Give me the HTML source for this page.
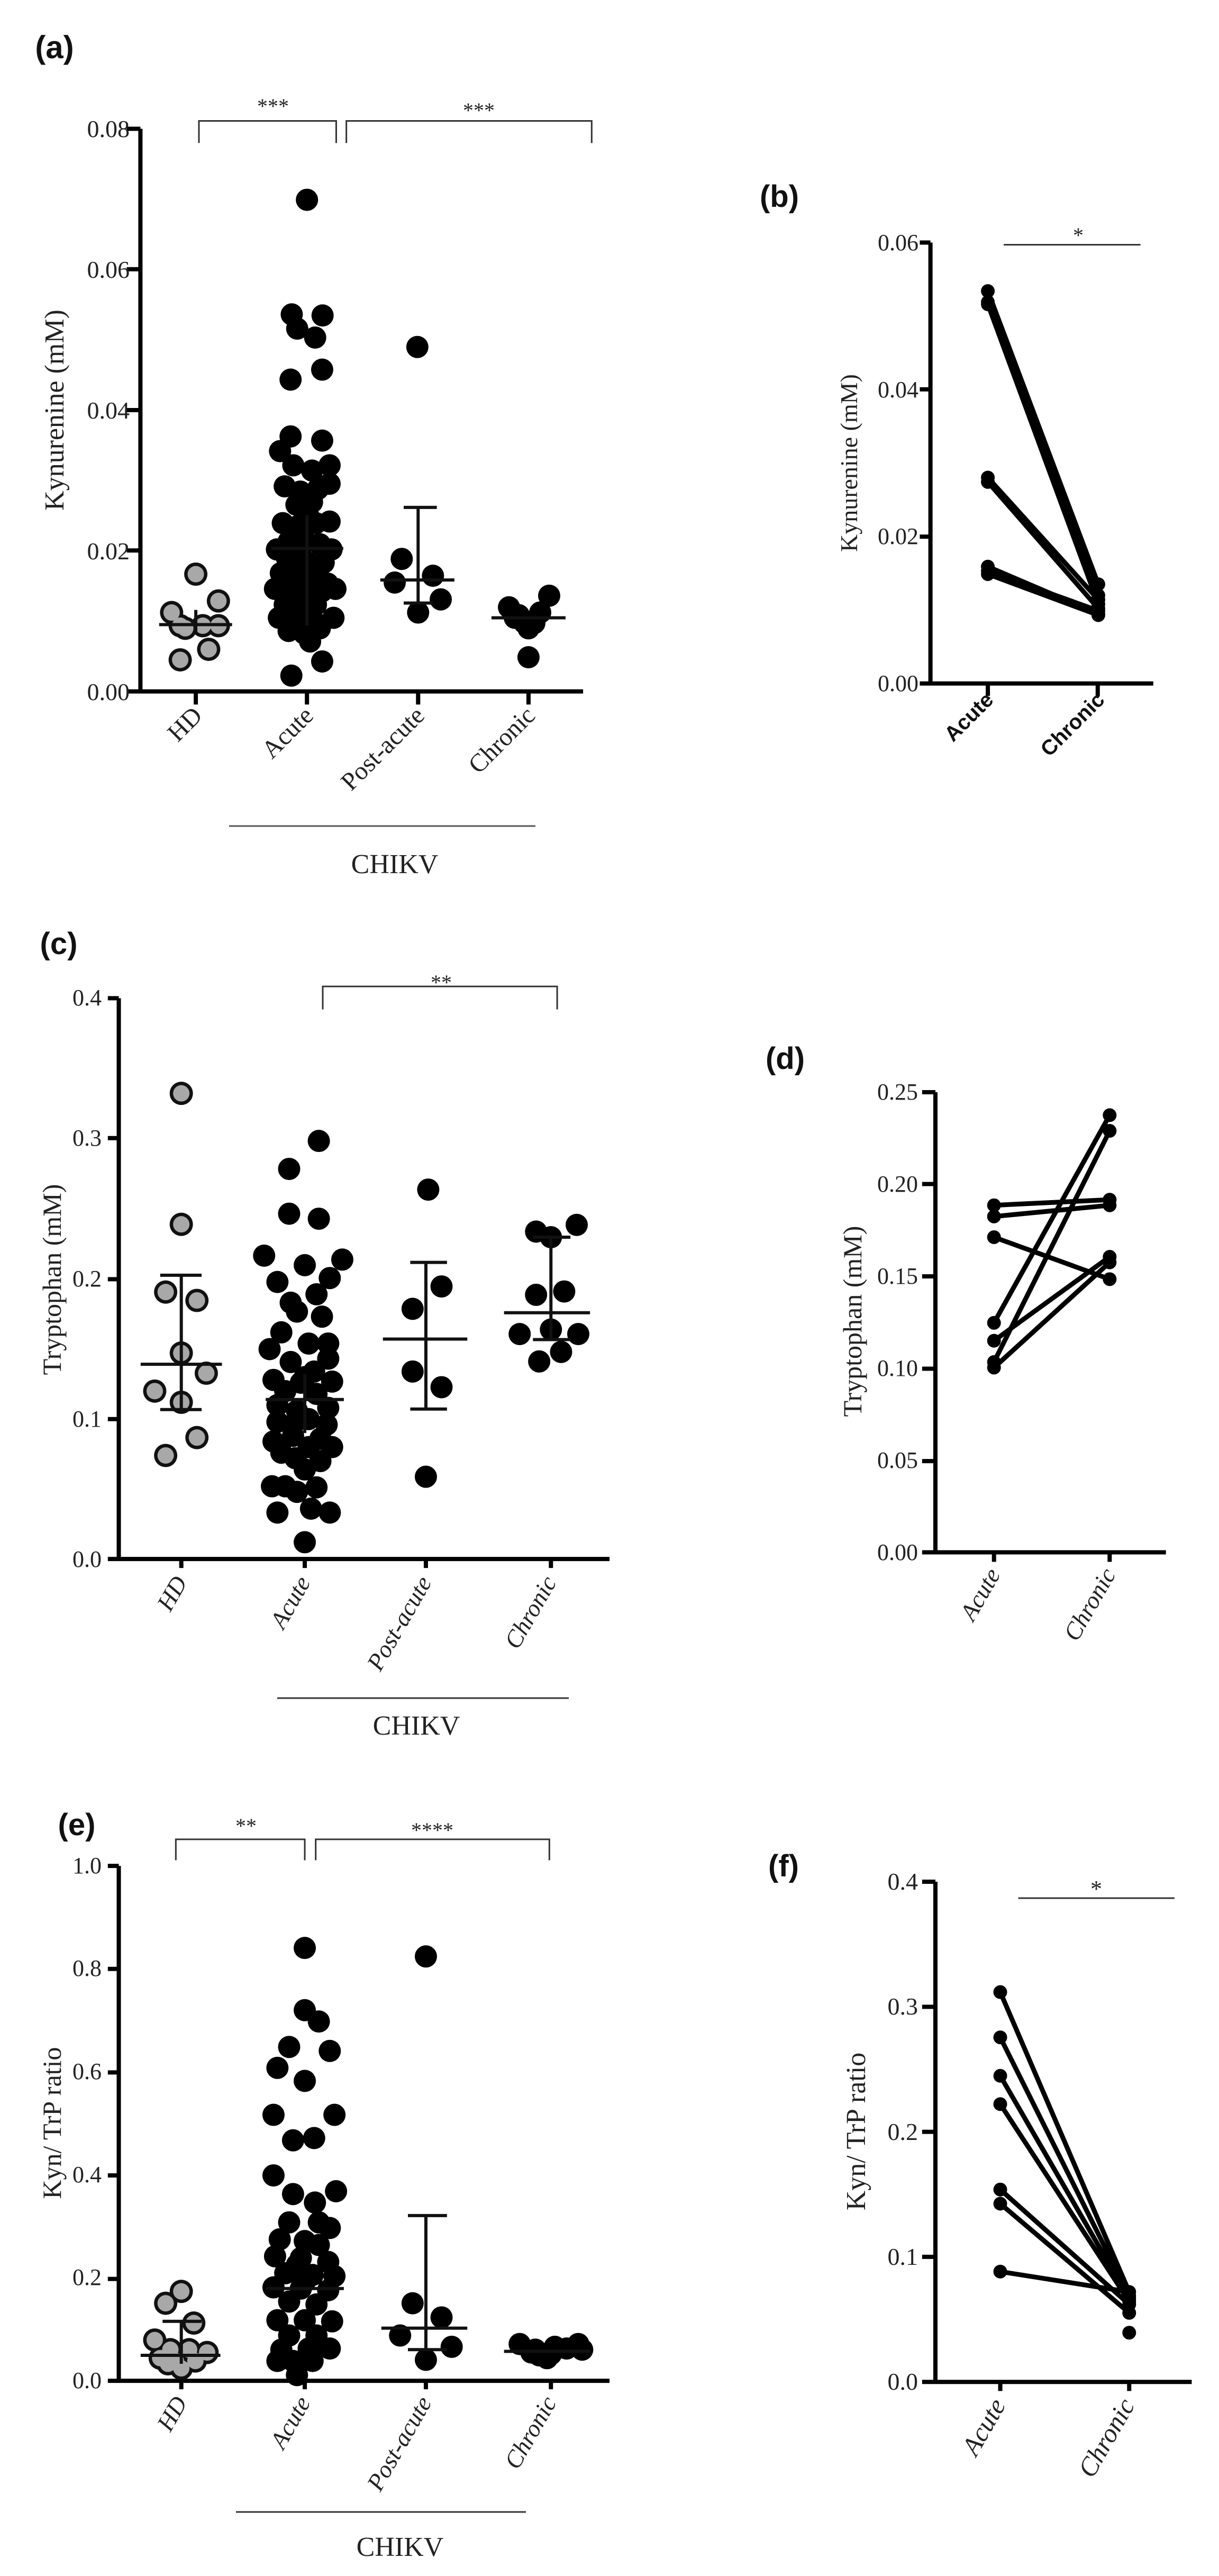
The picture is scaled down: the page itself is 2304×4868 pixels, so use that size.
<!DOCTYPE html>
<html><head><meta charset="utf-8"><style>
html,body{margin:0;padding:0;background:#fff}
svg{display:block}
.t{font-family:"Liberation Serif",serif;fill:#222}
.b{font-family:"Liberation Sans",sans-serif;font-weight:bold;fill:#111}
path{fill:none;vector-effect:non-scaling-stroke}
.ax{stroke:#000;stroke-width:8}
.br{stroke:#333;stroke-width:3}
.ml{stroke:#111;stroke-width:6}
.dk{stroke:#000;stroke-width:42;stroke-linecap:round}
.go{stroke:#111;stroke-width:44;stroke-linecap:round}
.gi{stroke:#a8a8a8;stroke-width:31;stroke-linecap:round}
.pl{stroke:#000;stroke-width:9;stroke-linecap:round}
.pd{stroke:#000;stroke-width:26;stroke-linecap:round}
</style></head><body>
<svg width="2304" height="4868" viewBox="0 0 2304 4868" xmlns="http://www.w3.org/2000/svg">
<rect width="2304" height="4868" fill="#fff"/>

<!-- PANEL A -->
<g transform="matrix(0.7372 0 0 0.9936 0 0)">
<path class="ax" d="M360 245V1315H1495 M325 245H360 M325 512H360 M325 780H360 M325 1047H360 M325 1315H360 M502 1315V1340 M787 1315V1340 M1072 1315V1340 M1355 1315V1340"/>
<path class="br" d="M510 272V230H862V272 M888 272V230H1517V272"/>
<path class="go" d="M502 1092h0M560 1143h0M440 1165h0M462 1190h0M520 1190h0M560 1190h0M475 1195h0M535 1235h0M462 1255h0"/>
<path class="gi" d="M502 1092h0M560 1143h0M440 1165h0M462 1190h0M520 1190h0M560 1190h0M475 1195h0M535 1235h0M462 1255h0"/>
<path class="ml" d="M408 1188H595 M502 1160V1205"/>
<path class="dk" d="M787 380h0M748 598h0M827 600h0M762 625h0M808 642h0M745 722h0M826 703h0M745 830h0M826 838h0M718 858h0M752 885h0M800 895h0M845 885h0M730 925h0M770 935h0M815 930h0M845 920h0M760 960h0M800 955h0M725 995h0M765 1000h0M810 995h0M845 992h0M740 1030h0M780 1025h0M820 1035h0M710 1045h0M850 1045h0M745 1065h0M790 1070h0M830 1070h0M720 1090h0M760 1100h0M800 1095h0M840 1110h0M705 1120h0M745 1125h0M785 1130h0M825 1125h0M860 1120h0M730 1150h0M770 1155h0M810 1150h0M715 1175h0M760 1180h0M800 1175h0M855 1175h0M740 1200h0M780 1205h0M820 1195h0M795 1220h0M826 1258h0M747 1285h0M770 1050h0M790 980h0M735 1060h0"/>
<path class="ml" d="M695 1043H880 M787 980V1190"/>
<path class="dk" d="M1070 660h0M1030 1063h0M1012 1108h0M1110 1095h0M1130 1140h0M1072 1165h0"/>
<path class="ml" d="M975 1103H1165 M1072 965V1147 M1035 965H1120 M1035 1147H1110"/>
<path class="dk" d="M1305 1155h0M1408 1133h0M1330 1170h0M1385 1165h0M1345 1185h0M1370 1185h0M1355 1195h0M1320 1175h0M1355 1250h0"/>
<path class="ml" d="M1260 1175H1450"/>
</g>
<text class="b" x="103" y="110" font-size="60" text-anchor="middle">(a)</text>
<text class="t" x="516" y="214" font-size="40" text-anchor="middle">***</text>
<text class="t" x="905" y="222" font-size="40" text-anchor="middle">***</text>
<g class="t" font-size="46" text-anchor="end">
<text x="245" y="259">0.08</text><text x="245" y="525">0.06</text><text x="245" y="791">0.04</text><text x="245" y="1057">0.02</text><text x="245" y="1323">0.00</text>
</g>
<text class="t" font-size="52" text-anchor="middle" transform="translate(120,775) rotate(-90)">Kynurenine (mM)</text>
<g class="t" font-size="48" text-anchor="end">
<text transform="translate(385,1355) rotate(-45)">HD</text>
<text transform="translate(595,1355) rotate(-45)">Acute</text>
<text transform="translate(805,1355) rotate(-45)">Post-acute</text>
<text transform="translate(1014,1355) rotate(-45)">Chronic</text>
</g>
<path d="M433 1561H1012" stroke="#555" stroke-width="3"/>
<text class="t" x="746" y="1650" font-size="52" text-anchor="middle">CHIKV</text>

<!-- PANEL B -->
<g transform="matrix(0.5769 0 0 0.8333 1300 150)">
<path class="ax" d="M795 370V1370H1525 M760 370H795 M760 703H795 M760 1037H795 M760 1370H795 M983 1370V1398 M1343 1370V1398"/>
<path class="br" d="M1035 375H1483"/>
<path class="pl" d="M983 480L1345 1145 M983 505L1345 1170 M983 510L1345 1190 M983 903L1345 1180 M983 913L1345 1200 M983 1105L1345 1212 M983 1115L1345 1205 M983 1122L1345 1215"/>
<path class="pd" d="M983 480h0M983 505h0M983 510h0M983 903h0M983 913h0M983 1105h0M983 1115h0M983 1122h0M1345 1145h0M1345 1170h0M1345 1190h0M1345 1180h0M1345 1200h0M1345 1212h0M1345 1205h0M1345 1215h0"/>
</g>
<text class="b" x="1473" y="391" font-size="58" text-anchor="middle">(b)</text>
<text class="t" x="2038" y="458" font-size="40" text-anchor="middle">*</text>
<g class="t" font-size="44" text-anchor="end">
<text x="1736" y="473">0.06</text><text x="1736" y="751">0.04</text><text x="1736" y="1028">0.02</text><text x="1736" y="1306">0.00</text>
</g>
<text class="t" font-size="46" text-anchor="middle" transform="translate(1620,875) rotate(-90)">Kynurenine (mM)</text>
<g class="b" font-size="40" text-anchor="end">
<text transform="translate(1880,1325) rotate(-45)">Acute</text>
<text transform="translate(2090,1325) rotate(-45)">Chronic</text>
</g>

<!-- PANEL C & D -->
<g transform="matrix(1.477 0 0 1.0577 0 1550)">
<path class="ax" d="M152 318V1320H780 M138 318H152 M138 568H152 M138 820H152 M138 1070H152 M138 1320H152 M232 1320V1336 M390 1320V1336 M545 1320V1336 M705 1320V1336"/>
<path class="br" d="M413 338V297H713V338"/>
<path class="go" d="M232 488h0M232 722h0M212 843h0M252 858h0M232 952h0M264 988h0M198 1020h0M232 1040h0M252 1103h0M212 1135h0"/>
<path class="gi" d="M232 488h0M232 722h0M212 843h0M252 858h0M232 952h0M264 988h0M198 1020h0M232 1040h0M252 1103h0M212 1135h0"/>
<path class="ml" d="M180 972H284 M232 813V1053 M205 813H258 M205 1053H258"/>
<path class="dk" d="M408 573h0M370 623h0M370 703h0M408 712h0M338 778h0M438 785h0M390 795h0M355 825h0M422 818h0M405 847h0M372 862h0M412 887h0M380 878h0M360 915h0M420 935h0M345 945h0M395 935h0M372 968h0M420 962h0M350 1000h0M390 995h0M425 1003h0M365 1020h0M405 1025h0M355 1045h0M420 1050h0M380 1055h0M395 1070h0M355 1075h0M418 1080h0M375 1100h0M410 1105h0M350 1110h0M395 1120h0M360 1130h0M425 1120h0M378 1140h0M410 1145h0M390 1160h0M365 1190h0M405 1192h0M348 1190h0M380 1200h0M355 1237h0M398 1230h0M422 1237h0M390 1290h0M385 1005h0M402 985h0M375 1080h0"/>
<path class="ml" d="M340 1035H440 M390 990V1095"/>
<path class="dk" d="M548 660h0M565 833h0M528 873h0M528 985h0M565 1013h0M545 1173h0"/>
<path class="ml" d="M490 927H598 M545 790V1052 M525 790H572 M525 1052H572"/>
<path class="dk" d="M686 735h0M738 723h0M705 745h0M722 842h0M686 848h0M705 910h0M665 918h0M740 918h0M690 967h0M718 950h0"/>
<path class="ml" d="M645 880H755 M705 745V928 M682 745H730 M682 928H730"/>
<path class="ax" d="M1197 486V1308H1492 M1180 486H1197 M1180 650H1197 M1180 815H1197 M1180 980H1197 M1180 1145H1197 M1180 1308H1197 M1272 1308V1325 M1420 1308V1325"/>
<path class="pl" d="M1272 688L1420 678 M1272 708L1420 688 M1272 745L1420 820 M1272 898L1420 527 M1272 968L1420 555 M1272 930L1420 780 M1272 978L1420 790"/>
<path class="pd" d="M1272 688h0M1272 708h0M1272 745h0M1272 898h0M1272 968h0M1272 930h0M1272 978h0M1420 678h0M1420 688h0M1420 820h0M1420 527h0M1420 555h0M1420 780h0M1420 790h0"/>
</g>
<text class="b" x="111" y="1803" font-size="58" text-anchor="middle">(c)</text>
<text class="t" x="834" y="1870" font-size="40" text-anchor="middle">**</text>
<g class="t" font-size="44" text-anchor="end">
<text x="192" y="1900">0.4</text><text x="192" y="2165">0.3</text><text x="192" y="2431">0.2</text><text x="192" y="2696">0.1</text><text x="192" y="2961">0.0</text>
</g>
<text class="t" font-size="50" text-anchor="middle" transform="translate(115,2418) rotate(-90)">Tryptophan (mM)</text>
<g class="t" font-size="46" text-anchor="end" font-style="italic">
<text transform="translate(355,2990) rotate(-60)">HD</text>
<text transform="translate(588,2990) rotate(-60)">Acute</text>
<text transform="translate(817,2990) rotate(-60)">Post-acute</text>
<text transform="translate(1053,2990) rotate(-60)">Chronic</text>
</g>
<path d="M524 3209H1075" stroke="#333" stroke-width="3"/>
<text class="t" x="787" y="3278" font-size="52" text-anchor="middle">CHIKV</text>

<text class="b" x="1484" y="2020" font-size="58" text-anchor="middle">(d)</text>
<g class="t" font-size="44" text-anchor="end">
<text x="1735" y="2078">0.25</text><text x="1735" y="2252">0.20</text><text x="1735" y="2426">0.15</text><text x="1735" y="2600">0.10</text><text x="1735" y="2774">0.05</text><text x="1735" y="2948">0.00</text>
</g>
<text class="t" font-size="50" text-anchor="middle" transform="translate(1628,2497) rotate(-90)">Tryptophan (mM)</text>
<g class="t" font-size="46" text-anchor="end" font-style="italic">
<text transform="translate(1892,2975) rotate(-60)">Acute</text>
<text transform="translate(2110,2975) rotate(-60)">Chronic</text>
</g>

<!-- PANEL E & F -->
<g transform="matrix(1.477 0 0 1.0692 0 3200)">
<path class="ax" d="M152 305V1215H780 M138 305H152 M138 487H152 M138 670H152 M138 852H152 M138 1035H152 M138 1215H152 M232 1215V1230 M390 1215V1230 M545 1215V1230 M705 1215V1230"/>
<path class="br" d="M225 295V258H390V295 M404 295V258H703V295"/>
<path class="go" d="M232 1057h0M212 1078h0M248 1113h0M198 1143h0M218 1160h0M242 1160h0M265 1165h0M205 1175h0M225 1180h0M250 1180h0M232 1193h0M215 1185h0"/>
<path class="gi" d="M232 1057h0M212 1078h0M248 1113h0M198 1143h0M218 1160h0M242 1160h0M265 1165h0M205 1175h0M225 1180h0M250 1180h0M232 1193h0M215 1185h0"/>
<path class="ml" d="M180 1170H282 M232 1110V1185 M208 1110H258"/>
<path class="dk" d="M390 450h0M390 560h0M408 580h0M370 625h0M422 632h0M355 662h0M390 685h0M350 745h0M428 745h0M375 790h0M402 786h0M350 852h0M375 885h0M430 880h0M403 900h0M370 935h0M408 935h0M422 945h0M358 965h0M390 968h0M408 975h0M352 995h0M385 998h0M420 1005h0M365 1025h0M400 1028h0M428 1030h0M350 1050h0M385 1052h0M420 1055h0M370 1075h0M405 1080h0M355 1108h0M390 1108h0M425 1110h0M370 1135h0M405 1135h0M360 1160h0M395 1158h0M422 1158h0M375 1180h0M400 1180h0M355 1180h0M380 1205h0M390 1040h0M380 1010h0"/>
<path class="ml" d="M340 1052H440"/>
<path class="dk" d="M545 465h0M528 1078h0M565 1103h0M512 1135h0M578 1155h0M545 1178h0"/>
<path class="ml" d="M488 1122H598 M545 923V1160 M522 923H572 M522 1160H572"/>
<path class="dk" d="M665 1150h0M685 1160h0M705 1168h0M740 1150h0M725 1158h0M690 1170h0M710 1155h0M680 1165h0M745 1160h0M700 1175h0"/>
<path class="ml" d="M645 1163H755"/>
<path class="ax" d="M1197 333V1217H1525 M1180 333H1197 M1180 554H1197 M1180 775H1197 M1180 996H1197 M1180 1217H1197 M1280 1217V1233 M1445 1217V1233"/>
<path class="br" d="M1303 362H1503"/>
<path class="pl" d="M1280 528L1445 1058 M1280 608L1445 1065 M1280 676L1445 1070 M1280 726L1445 1075 M1280 877L1445 1080 M1280 902L1445 1095 M1280 1022L1445 1058"/>
<path class="pd" d="M1280 528h0M1280 608h0M1280 676h0M1280 726h0M1280 877h0M1280 902h0M1280 1022h0M1445 1058h0M1445 1065h0M1445 1070h0M1445 1075h0M1445 1080h0M1445 1095h0M1445 1130h0"/>
</g>
<text class="b" x="145" y="3468" font-size="58" text-anchor="middle">(e)</text>
<text class="t" x="465" y="3464" font-size="40" text-anchor="middle">**</text>
<text class="t" x="817" y="3472" font-size="40" text-anchor="middle">****</text>
<g class="t" font-size="44" text-anchor="end">
<text x="192" y="3540">1.0</text><text x="192" y="3734">0.8</text><text x="192" y="3929">0.6</text><text x="192" y="4124">0.4</text><text x="192" y="4318">0.2</text><text x="192" y="4513">0.0</text>
</g>
<text class="t" font-size="50" text-anchor="middle" transform="translate(115,4012) rotate(-90)">Kyn/ TrP ratio</text>
<g class="t" font-size="46" text-anchor="end" font-style="italic">
<text transform="translate(355,4540) rotate(-60)">HD</text>
<text transform="translate(588,4540) rotate(-60)">Acute</text>
<text transform="translate(817,4540) rotate(-60)">Post-acute</text>
<text transform="translate(1053,4540) rotate(-60)">Chronic</text>
</g>
<path d="M446 4747H994" stroke="#333" stroke-width="3"/>
<text class="t" x="756" y="4830" font-size="52" text-anchor="middle">CHIKV</text>

<text class="b" x="1481" y="3546" font-size="58" text-anchor="middle">(f)</text>
<text class="t" x="2072" y="3584" font-size="44" text-anchor="middle">*</text>
<g class="t" font-size="46" text-anchor="end">
<text x="1735" y="3571">0.4</text><text x="1735" y="3807">0.3</text><text x="1735" y="4044">0.2</text><text x="1735" y="4280">0.1</text><text x="1735" y="4516">0.0</text>
</g>
<text class="t" font-size="52" text-anchor="middle" transform="translate(1635,4028) rotate(-90)">Kyn/ TrP ratio</text>
<g class="t" font-size="50" text-anchor="end" font-style="italic">
<text transform="translate(1902,4545) rotate(-60)">Acute</text>
<text transform="translate(2146,4545) rotate(-60)">Chronic</text>
</g>
</svg>
</body></html>
